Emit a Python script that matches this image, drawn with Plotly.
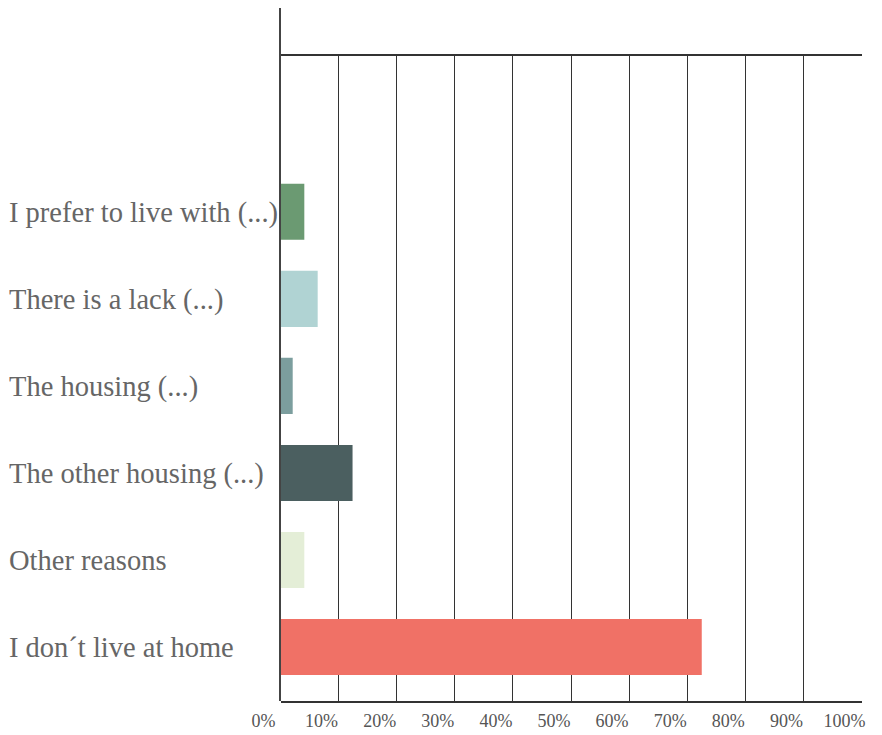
import plotly.graph_objects as go

categories = [
    "I don´t live at home",
    "Other reasons",
    "The other housing (...)",
    "The housing (...)",
    "There is a lack (...)",
    "I prefer to live with (...)",
]
values = [72.5, 4.1, 12.4, 2.1, 6.4, 4.1]
colors = ["#F07166", "#E4EED7", "#4B5F60", "#7C9E9E", "#B0D3D3", "#6B9A72"]
tick_vals = [0, 10, 20, 30, 40, 50, 60, 70, 80, 90, 100]
tick_text = ["0%", "10%", "20%", "30%", "40%", "50%", "60%", "70%", "80%", "90%", "100%"]

# page body has an 8px margin, so the figure is drawn from (8, 8)
OFF = 8
W, H = 882 - OFF, 735 - OFF
x0, x1 = (280.5 - OFF) / W, (862.4 - OFF) / W
y_bot, y_top = 1 - (701 - OFF) / H, 1 - (56 - OFF) / H

fig = go.Figure()
fig.add_trace(go.Bar(
    y=categories, x=values, orientation="h",
    marker=dict(color=colors, line=dict(width=0)),
    width=0.644, showlegend=False, hoverinfo="skip",
))
# empty helper trace so the tall left axis line (yaxis2) is drawn
fig.add_trace(go.Scatter(x=[None], y=[None], xaxis="x3", yaxis="y2",
                         showlegend=False, hoverinfo="skip", mode="markers"))

line_col = "#333333"
fig.update_layout(
    width=W, height=H,
    margin=dict(l=0, r=0, t=0, b=0),
    paper_bgcolor="white", plot_bgcolor="rgba(0,0,0,0)",
    font=dict(family="Liberation Serif", color="#666666"),
    xaxis=dict(
        domain=[x0, x1], range=[0, 100.15], anchor="y",
        tickmode="array", tickvals=tick_vals, ticktext=tick_text,
        showgrid=True, gridcolor=line_col, gridwidth=1.4,
        showline=True, mirror=True, linecolor=line_col, linewidth=1.5,
        zeroline=False, ticks="", tickfont=dict(size=18, color="#555555"),
        ticklabelshift=-17, ticklabelstandoff=3, automargin=False,
    ),
    xaxis2=dict(
        domain=[x0, 1.0], range=[0, 1], anchor="y",
        showgrid=False, showline=True, linecolor=line_col, linewidth=1.5,
        showticklabels=False, ticks="", zeroline=False,
    ),
    xaxis3=dict(
        domain=[x0, x1], range=[0, 1], anchor="y2",
        showgrid=False, showline=False, showticklabels=False,
        ticks="", zeroline=False,
    ),
    yaxis=dict(
        domain=[y_bot, y_top], range=[-0.62, 6.79],
        type="category", categoryorder="array", categoryarray=categories,
        anchor="free", position=0.0, side="right",
        showgrid=False, showline=False, zeroline=False, ticks="",
        tickfont=dict(size=28.5, color="#666666"), automargin=False,
    ),
    yaxis2=dict(
        domain=[y_bot, 1.0], range=[0, 1], anchor="x3",
        showgrid=False, showline=True, linecolor="#444444", linewidth=1.5,
        showticklabels=False, ticks="", zeroline=False,
    ),
)

fig.write_html("out.html")
